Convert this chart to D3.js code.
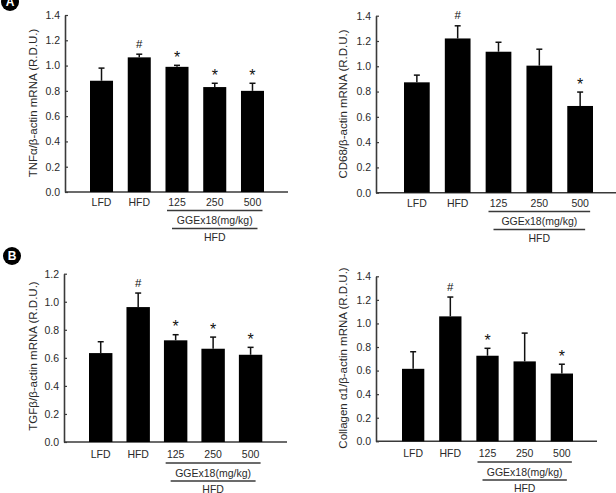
<!DOCTYPE html>
<html><head><meta charset="utf-8">
<script src="https://cdn.jsdelivr.net/npm/d3@7"></script>
<style>body{margin:0;background:#fff}svg{display:block}text{font-family:"Liberation Sans",Arial,sans-serif}</style>
</head><body>
<script>
const categories = ["LFD","HFD","125","250","500"];
const groupLabel = "GGEx18(mg/kg)";
const groupLabel2 = "HFD";

const tnfValues = [0.88, 1.065, 0.99, 0.83, 0.80];
const tnfErrors = [0.10, 0.025, 0.012, 0.03, 0.06];
const tnfMarks  = ["", "#", "*", "*", "*"];

const cd68Values = [0.873, 1.22, 1.115, 1.005, 0.686];
const cd68Errors = [0.057, 0.10, 0.075, 0.13, 0.11];
const cd68Marks  = ["", "#", "", "", "*"];

const tgfValues = [0.634, 0.962, 0.725, 0.665, 0.622];
const tgfErrors = [0.081, 0.10, 0.04, 0.083, 0.053];
const tgfMarks  = ["", "#", "*", "*", "*"];

const colValues = [0.615, 1.06, 0.726, 0.678, 0.575];
const colErrors = [0.145, 0.164, 0.063, 0.24, 0.079];
const colMarks  = ["", "#", "*", "", "*"];

const ticks14 = [0,0.2,0.4,0.6,0.8,1.0,1.2,1.4];
const ticks12 = [0,0.2,0.4,0.6,0.8,1.0,1.2];

const panels = [
  {values:tnfValues, errors:tnfErrors, marks:tnfMarks, ticks:ticks14, max:1.4,
   label:"TNFα/β-actin mRNA (R.D.U.)", ax:65, xend:288, y0:192, ytop:15, band:[90,264], pi:0.39, dy:10, lx:33, ly:103},
  {values:cd68Values, errors:cd68Errors, marks:cd68Marks, ticks:ticks14, max:1.4,
   label:"CD68/β-actin mRNA (R.D.U.)", ax:376, xend:616, y0:192.7, ytop:15.7, band:[404,593], pi:0.37, dy:10.3, lx:343, ly:104},
  {values:tgfValues, errors:tgfErrors, marks:tgfMarks, ticks:ticks12, max:1.2,
   label:"TGFβ/β-actin mRNA (R.D.U.)", ax:64, xend:287, y0:442, ytop:273.7, band:[89,262.3], pi:0.375, dy:12.4, lx:33, ly:356},
  {values:colValues, errors:colErrors, marks:colMarks, ticks:ticks14, max:1.4,
   label:"Collagen α1/β-actin mRNA (R.D.U.)", ax:376, xend:597, y0:441.3, ytop:276.3, band:[402,573], pi:0.40, dy:12.2, lx:343, ly:358}
];

const svg = d3.select("body").append("svg").attr("width",616).attr("height",493);
const axisColor = "#3a3a3a", textColor = "#2a2a2a";

panels.forEach(p => {
  const g = svg.append("g");
  const x = d3.scaleBand().domain(categories).range(p.band).paddingInner(p.pi).paddingOuter(0);
  const y = d3.scaleLinear().domain([0,p.max]).range([p.y0,p.ytop]);
  const bw = x.bandwidth();

  const yAxis = d3.axisLeft(y).tickValues(p.ticks).tickFormat(d3.format(".1f")).tickSizeInner(-3).tickSizeOuter(0).tickPadding(8);
  const ya = g.append("g").attr("transform",`translate(${p.ax},0)`).call(yAxis);
  ya.select(".domain").attr("stroke",axisColor).attr("stroke-width",1.6);
  ya.selectAll(".tick line").attr("stroke",axisColor).attr("stroke-width",1.2);
  ya.selectAll(".tick text").attr("fill",textColor).attr("font-size",10.5).attr("dx", 3);

  g.append("line").attr("x1",p.ax).attr("x2",p.xend).attr("y1",p.y0).attr("y2",p.y0)
    .attr("stroke",axisColor).attr("stroke-width",1.6);

  g.selectAll("rect.bar").data(p.values).join("rect")
    .attr("x",(d,i)=>x(categories[i])).attr("width",bw)
    .attr("y",d=>y(d)).attr("height",d=>p.y0-y(d)).attr("fill","#000");

  p.values.forEach((v,i)=>{
    const cx = x(categories[i])+bw/2;
    const top = y(v+p.errors[i]);
    g.append("line").attr("x1",cx).attr("x2",cx).attr("y1",y(v)).attr("y2",top).attr("stroke","#111").attr("stroke-width",1.5);
    g.append("line").attr("x1",cx-3).attr("x2",cx+3).attr("y1",top).attr("y2",top).attr("stroke","#111").attr("stroke-width",1.5);
    const m = p.marks[i];
    if (m) {
      g.append("text").attr("x",cx).attr("y", m==="#" ? top-6.5 : top-2.5)
        .attr("text-anchor","middle").attr("font-size", m==="#"?11.5:16).attr("fill","#111").text(m);
    }
  });

  g.selectAll("text.cat").data(categories).join("text")
    .attr("x",d=>x(d)+bw/2).attr("y",p.y0+p.dy).attr("dy","0.35em")
    .attr("text-anchor","middle").attr("font-size",10.5).attr("fill",textColor).text(d=>d);

  const c1 = x("125")+bw/2, c5 = x("500")+bw/2;
  g.append("line").attr("x1",c1-10).attr("x2",c5+10).attr("y1",p.y0+p.dy+8.5).attr("y2",p.y0+p.dy+8.5)
    .attr("stroke",axisColor).attr("stroke-width",1.5);
  g.append("text").attr("x",(c1+c5)/2).attr("y",p.y0+p.dy+18.5).attr("dy","0.35em")
    .attr("text-anchor","middle").attr("font-size",10.5).attr("fill",textColor).text(groupLabel);
  g.append("line").attr("x1",c1-5).attr("x2",c5+5).attr("y1",p.y0+p.dy+26.5).attr("y2",p.y0+p.dy+26.5)
    .attr("stroke",axisColor).attr("stroke-width",1.5);
  g.append("text").attr("x",(c1+c5)/2).attr("y",p.y0+p.dy+35).attr("dy","0.35em")
    .attr("text-anchor","middle").attr("font-size",10.5).attr("fill",textColor).text(groupLabel2);

  g.append("text").attr("transform",`translate(${p.lx},${p.ly}) rotate(-90)`).attr("dy","0.35em")
    .attr("text-anchor","middle").attr("font-size",11.5).attr("fill",textColor).text(p.label);
});

[["A",10,2],["B",12,256]].forEach(([t,cx,cy])=>{
  svg.append("circle").attr("cx",cx).attr("cy",cy).attr("r",9).attr("fill","#000");
  svg.append("text").attr("x",cx).attr("y",cy).attr("dy","0.36em").attr("text-anchor","middle")
    .attr("font-size",12).attr("font-weight","bold").attr("fill","#fff").text(t);
});
</script>
</body></html>
